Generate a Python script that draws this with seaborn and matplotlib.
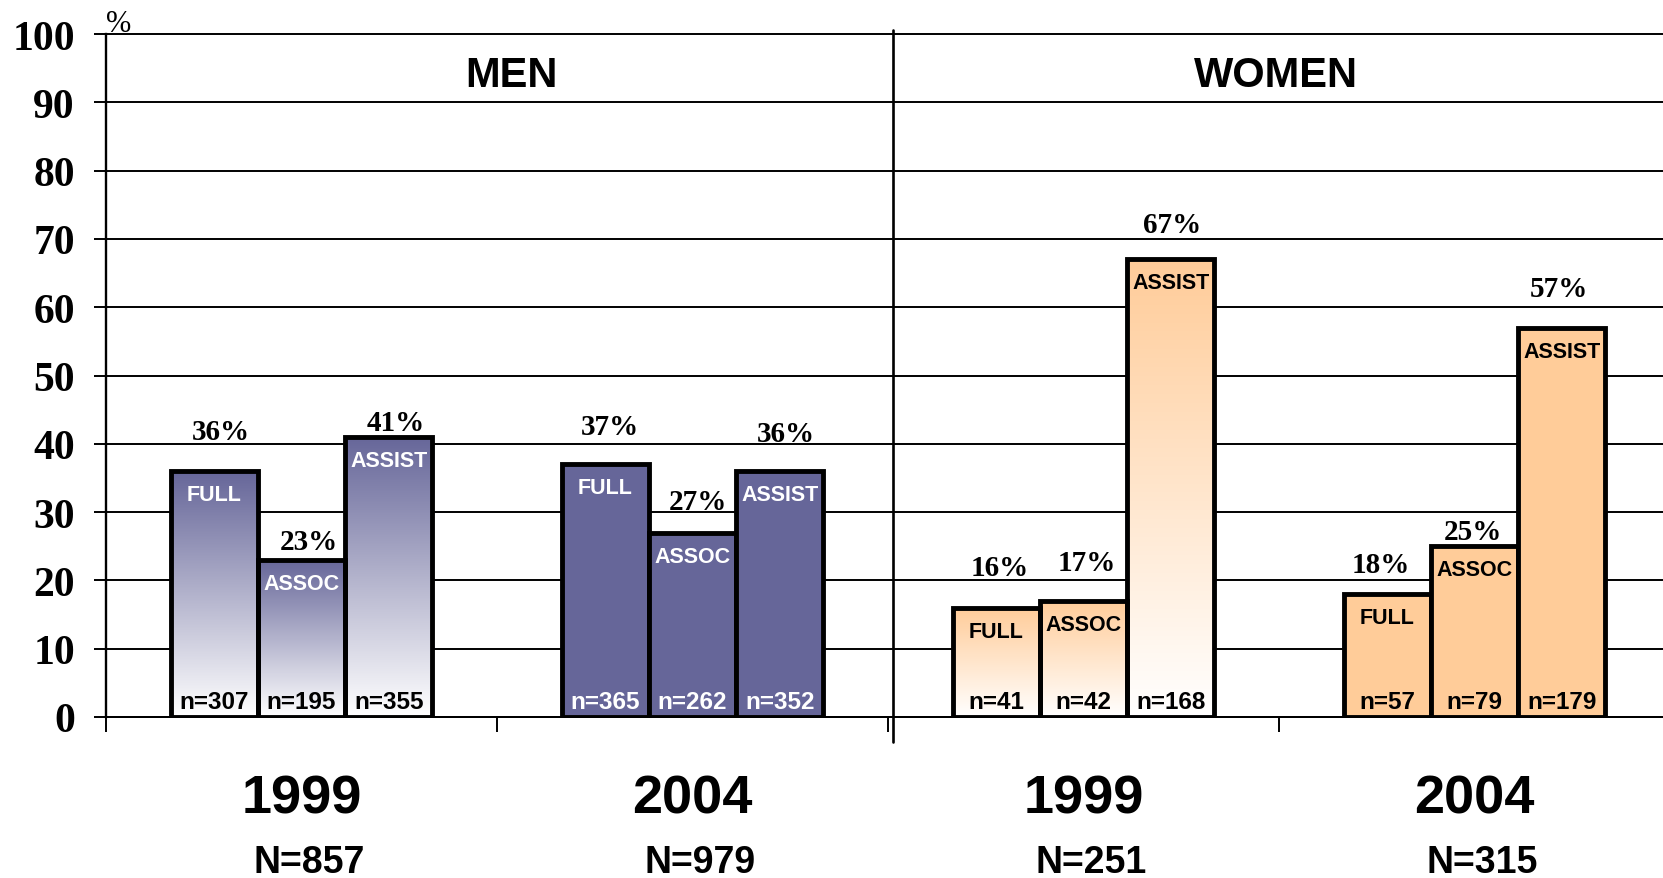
import numpy as np
import pandas as pd
import matplotlib
matplotlib.use("Agg")
import matplotlib.pyplot as plt
import seaborn as sns
from matplotlib.colors import to_rgb
from matplotlib.patches import Rectangle

# ---- data -------------------------------------------------------------
groups = ["Men 1999", "Men 2004", "Women 1999", "Women 2004"]
year_labels = ["1999", "2004", "1999", "2004"]
group_totals = ["N=857", "N=979", "N=251", "N=315"]
sex_titles = ["MEN", "WOMEN"]
ranks = ["FULL", "ASSOC", "ASSIST"]

men_1999 = [36, 23, 41]
men_2004 = [37, 27, 36]
women_1999 = [16, 17, 67]
women_2004 = [18, 25, 57]

n_men_1999 = [307, 195, 355]
n_men_2004 = [365, 262, 352]
n_women_1999 = [41, 42, 168]
n_women_2004 = [57, 79, 179]

values = [men_1999, men_2004, women_1999, women_2004]
counts = [n_men_1999, n_men_2004, n_women_1999, n_women_2004]

# ---- styling ----------------------------------------------------------
group_colors = ["#666699", "#666699", "#FFCC99", "#FFCC99"]
group_gradient = [True, False, True, False]
rank_text_color = ["white", "white", "black", "black"]
n_text_color = ["black", "white", "black", "black"]
# nudges (pixels) of each percentage label: horizontal, and centre height above bar top
label_dx = [7, 7, 7, 5, 5, 6, 4, 3, 1, -6, -2, -3]
label_dy = [42, 21, 17, 40, 33, 40, 42, 40, 37, 32, 17, 41]

SERIF = "Liberation Serif"
SANS = "Liberation Sans"
PT = 0.72  # points per pixel at 100 dpi
EDGE = 3.5

sns.set_style("white")
plt.rcParams["font.family"] = [SANS, "DejaVu Sans"]
plt.rcParams.update({"text.color": "black", "axes.labelcolor": "black",
                     "xtick.color": "black", "ytick.color": "black"})

df = pd.DataFrame({
    "group": np.repeat(groups, len(ranks)),
    "rank": ranks * len(groups),
    "pct": np.concatenate(values),
})

W, H = 1663, 879
fig = plt.figure(figsize=(W / 100, H / 100), dpi=100)
fig.patch.set_facecolor("white")
ax = fig.add_axes([106 / W, 161 / H, 1564 / W, 683 / H])

sns.barplot(data=df, x="group", y="pct", hue="rank", order=groups,
            hue_order=ranks, width=0.67, gap=0, dodge=True, legend=False,
            errorbar=None, edgecolor="black", linewidth=EDGE, ax=ax)

bars = sorted([p for p in ax.patches if isinstance(p, Rectangle) and p.get_width() > 0],
              key=lambda p: p.get_x())

for i, p in enumerate(bars):
    g, r = divmod(i, len(ranks))
    p.set_zorder(3)
    p.set_linewidth(EDGE)
    p.set_edgecolor("black")
    p.set_joinstyle("miter")
    col = np.array(to_rgb(group_colors[g]))
    if group_gradient[g]:
        p.set_facecolor("none")
        t = np.linspace(0, 1, 256)[:, None]
        grad = (1 - t) * np.ones(3) + t * col
        grad = grad[:, None, :]
        x0, w, h = p.get_x(), p.get_width(), p.get_height()
        im = ax.imshow(grad, extent=[x0, x0 + w, 0, h], origin="lower",
                       aspect="auto", zorder=2, interpolation="bilinear")
        im.set_clip_path(p)
    else:
        p.set_facecolor(col)

ax.set_xlim(-0.5, 3.5)
ax.set_ylim(0, 100)

# labels on and above the bars
for i, p in enumerate(bars):
    g, r = divmod(i, len(ranks))
    v = values[g][r]
    xc = p.get_x() + p.get_width() / 2
    ax.annotate(f"{v}%", (xc, v), xytext=(label_dx[i] * PT, (label_dy[i] - 9.6) * PT),
                textcoords="offset points", ha="center", va="baseline",
                fontfamily=SERIF, fontweight="bold", fontsize=21, zorder=5,
                color="black", annotation_clip=False)
    ax.annotate(ranks[r], (xc, v), xytext=(0, -29 * PT), textcoords="offset points",
                ha="center", va="baseline", fontfamily=SANS, fontweight="bold",
                fontsize=15.5, color=rank_text_color[g], zorder=5)
    ax.annotate(f"n={counts[g][r]}", (xc, 0), xytext=(0, 9 * PT),
                textcoords="offset points", ha="center", va="baseline",
                fontfamily=SANS, fontweight="bold", fontsize=17.5,
                color=n_text_color[g], zorder=5)

# axes styling
ax.set_xlabel("")
ax.set_ylabel("")
ax.set_yticks(np.arange(0, 101, 10))
ax.set_yticklabels([str(v) for v in range(0, 101, 10)],
                   fontfamily=SERIF, fontweight="bold", fontsize=30, color="black")
ax.tick_params(axis="y", direction="out", length=12 * PT, width=1.4,
               color="black", pad=19 * PT, left=True)
ax.yaxis.grid(True, color="black", linewidth=1.4)
ax.xaxis.grid(False)
ax.set_axisbelow(True)
for gl in ax.get_ygridlines():
    gl.set_clip_on(False)

ax.set_xticks([-0.5, 0.5, 1.5, 2.5])
ax.set_xticklabels([""] * 4)
ax.tick_params(axis="x", which="major", direction="out", length=15 * PT,
               width=1.4, color="black", bottom=True)
ax.set_xticks(range(len(groups)), minor=True)
ax.set_xticklabels(year_labels, minor=True, fontfamily=SANS,
                   fontweight="bold", fontsize=39, color="black")
ax.tick_params(axis="x", which="minor", length=0, pad=41)

for side in ["top", "right"]:
    ax.spines[side].set_visible(False)
ax.spines["left"].set_color("black")
ax.spines["left"].set_linewidth(1.7)
ax.spines["bottom"].set_color("black")
ax.spines["bottom"].set_linewidth(1.4)

xt = ax.get_xaxis_transform()
for k, tot in enumerate(group_totals):
    ax.text(k + 0.02, (718 - 873) / 683, tot, transform=xt, ha="center",
            va="baseline", fontfamily=SANS, fontweight="bold", fontsize=27,
            color="black")

# panel titles and the divider between the two panels
ax.text(0.538, (718 - 87) / 683, sex_titles[0], transform=xt, ha="center",
        va="baseline", fontfamily=SANS, fontweight="bold", fontsize=30, color="black")
ax.text(2.492, (718 - 87) / 683, sex_titles[1], transform=xt, ha="center",
        va="baseline", fontfamily=SANS, fontweight="bold", fontsize=30, color="black")
ax.plot([1.512, 1.512], [(718 - 31) / 683, (718 - 743) / 683], transform=xt,
        color="black", linewidth=1.9, clip_on=False, zorder=4)

ax.text(0.0, 1.0 + 3 / 683, "%", transform=ax.transAxes, ha="left",
        va="baseline", fontfamily=SERIF, fontsize=22, color="black")

fig.savefig("out.png", dpi=100, facecolor="white")
